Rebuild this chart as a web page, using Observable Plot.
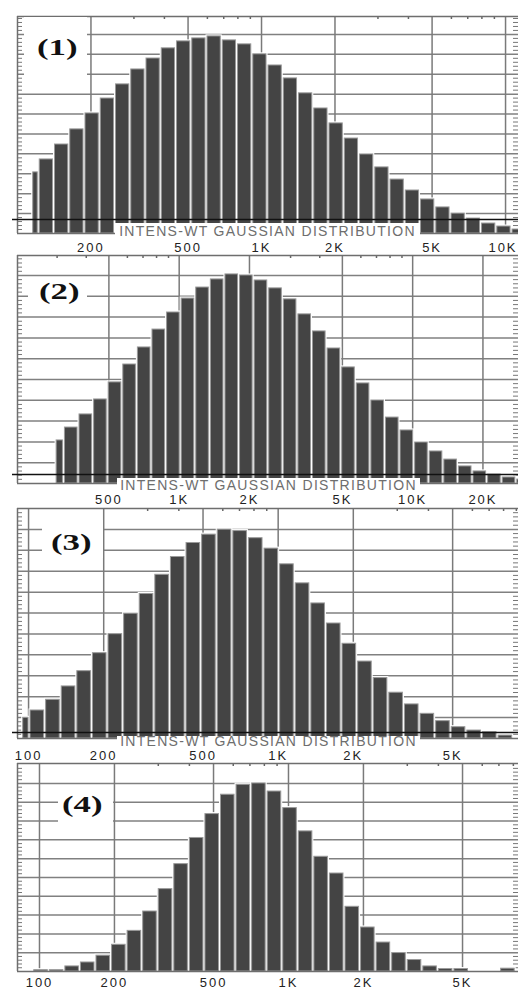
<!DOCTYPE html>
<html><head><meta charset="utf-8">
<script src="https://cdn.jsdelivr.net/npm/d3@7"></script>
<script src="https://cdn.jsdelivr.net/npm/@observablehq/plot@0.6"></script>
<style>
body{margin:0;background:#fff;}
#root{position:relative;width:518px;height:989px;overflow:hidden;background:#fff;}
.panel{position:absolute;left:0;width:518px;}
.panel svg text{letter-spacing:2px;}
.cap{position:absolute;background:#fff;color:#6e6e6e;font:14px "Liberation Sans",Arial,sans-serif;letter-spacing:1.3px;white-space:nowrap;text-align:center;}
.tagbox{position:absolute;background:#fff;}
.tag{position:absolute;font:bold 24px/24px "Liberation Serif","Times New Roman",serif;color:#111;transform:scaleX(1.45);transform-origin:left top;white-space:nowrap;}
</style></head><body><div id="root"></div>
<script>
// ---- data ----
const binsPerDecade = 16;
const captionText = "INTENS-WT GAUSSIAN DISTRIBUTION";
const panelTags = ["(1)", "(2)", "(3)", "(4)"];

const p1Values = [3.07, 3.72, 4.47, 5.23, 6.03, 6.78, 7.49, 8.24, 8.79, 9.30, 9.65, 9.80, 9.90, 9.70, 9.50, 9.00, 8.44, 7.79, 7.04, 6.28, 5.53, 4.77, 3.97, 3.32, 2.71, 2.16, 1.71, 1.31, 1.00, 0.75, 0.50, 0.35, 0.20];
const p1Edges = [114.9, 122.2];
const p1Domain = [100, 11300];
const p1Ticks = [200, 500, 1000, 2000, 5000, 10000];
const p1Minor = [300, 400, 600, 700, 800, 900, 3000, 4000, 6000, 7000, 8000, 9000];

const p2Values = [2.07, 2.69, 3.32, 4.04, 4.86, 5.72, 6.54, 7.40, 8.22, 8.89, 9.42, 9.81, 10.05, 10.0, 9.76, 9.38, 8.85, 8.13, 7.31, 6.49, 5.58, 4.81, 3.99, 3.17, 2.55, 1.97, 1.54, 1.15, 0.82, 0.58, 0.43, 0.29, 0.19];
const p2Edges = [295.7, 320.9];
const p2Domain = [203, 28400];
const p2Ticks = [500, 1000, 2000, 5000, 10000, 20000];
const p2Minor = [300, 400, 600, 700, 800, 900, 3000, 4000, 6000, 7000, 8000, 9000];

const p3Values = [0.99, 1.34, 1.85, 2.49, 3.22, 4.08, 4.99, 5.97, 6.91, 7.83, 8.68, 9.35, 9.75, 9.99, 9.92, 9.58, 9.08, 8.33, 7.42, 6.46, 5.50, 4.53, 3.68, 2.89, 2.19, 1.63, 1.18, 0.83, 0.54, 0.38, 0.30, 0.14];
const p3Edges = [94.3, 100.9];
const p3Domain = [90.3, 9180];
const p3Ticks = [100, 200, 500, 1000, 2000, 5000];
const p3Minor = [300, 400, 600, 700, 800, 900, 3000, 4000, 6000, 7000, 8000, 9000];

const p4Values = [0.07, 0.07, 0.27, 0.48, 0.84, 1.42, 2.16, 3.19, 4.38, 5.71, 7.10, 8.37, 9.40, 9.93, 10.0, 9.57, 8.69, 7.45, 6.10, 5.21, 3.44, 2.34, 1.54, 0.98, 0.61, 0.27, 0.13, 0.13, 0, 0, 0.15];
const p4Edges = [94.4, 109.0];
const p4Domain = [81.6, 8390];
const p4Ticks = [100, 200, 500, 1000, 2000, 5000];
const p4Minor = [300, 400, 600, 700, 800, 900, 3000, 4000, 6000, 7000, 8000, 9000];

const gridLevels = [1, 2, 3, 4, 5, 6, 7, 8, 9, 10];
const yMaxes = [10.9, 10.96, 11.0, 11.06];
const blackLines = [0.70, 0.43, 0.29, null];
const edgeTicks = [10000]; // label at the right edge, kept inside the page

// ---- drawing ----
const root = document.getElementById("root");
const fmt = d => d >= 1000 ? (d / 1000) + "K" : String(d);

function binEdges(first, second, n) {
  const r = Math.pow(10, 1 / binsPerDecade);
  const e = [first];
  for (let k = 0; k < n; k++) e.push(second * Math.pow(r, k));
  return e;
}

function makePanel({values, edges, domain, ticks, minor, ymax, blackY, top, mt, plotH, mb, pad, rightTicks = []}) {
  const e = binEdges(edges[0], edges[1], values.length);
  const bars = values.map((v, i) => ({x1: e[i], x2: e[i + 1], v}));
  const W = 518, ML = 17;
  const pxPerDec = (W - ML) / Math.log10(domain[1] / domain[0]);
  const unit = plotH / ymax;
  const kx = Math.pow(10, 5 / pxPerDec);
  const yMinor = d3.range(1, Math.floor(ymax * 5) + 1).map(i => i / 5).filter(d => Math.abs(d - Math.round(d)) > 0.01);
  const inner = ticks.filter(t => !rightTicks.includes(t));
  const txt = {fontSize: 13, fill: "#222", fontFamily: "Liberation Sans, Arial, sans-serif", frameAnchor: "bottom", lineAnchor: "top", dy: pad};
  const marks = [
    Plot.ruleY(gridLevels, {stroke: "#808080", strokeWidth: 1.5}),
    Plot.ruleX(ticks, {stroke: "#7a7a7a", strokeWidth: 1.5}),
    Plot.ruleY(yMinor, {x1: () => domain[0], x2: () => domain[0] * kx, stroke: "#777", strokeWidth: 1}),
    Plot.ruleY(yMinor, {x1: () => domain[1] / kx, x2: () => domain[1], stroke: "#777", strokeWidth: 1}),
    Plot.ruleX(minor, {y1: () => ymax, y2: () => ymax - 3 / unit, stroke: "#666", strokeWidth: 1.5}),
    Plot.rect(bars, {x1: "x1", x2: "x2", y1: () => 0, y2: "v", fill: "white", stroke: "white", strokeWidth: 3, insetLeft: 1, insetRight: 1}),
    Plot.rect(bars, {x1: "x1", x2: "x2", y1: () => 0, y2: "v", fill: "#444", stroke: "#9a9a9a", strokeWidth: 1, insetLeft: 1, insetRight: 1}),
    Plot.ruleY([0, ymax], {stroke: "#6e6e6e", strokeWidth: 1.5}),
    Plot.ruleX([domain[0]], {stroke: "#6e6e6e", strokeWidth: 1.5}),
    Plot.text(inner, {x: d => d, text: fmt, ...txt})
  ];
  if (rightTicks.length) marks.push(Plot.text(rightTicks, {x: d => d, text: fmt, textAnchor: "end", dx: 12, ...txt}));
  if (blackY != null) marks.push(Plot.ruleY([blackY], {stroke: "#111", strokeWidth: 1.6, insetLeft: -5}));
  const svg = Plot.plot({
    width: W, height: mt + plotH + mb,
    marginLeft: ML, marginRight: 0, marginTop: mt, marginBottom: mb,
    x: {type: "log", domain, axis: null},
    y: {domain: [0, ymax], axis: null},
    marks
  });
  const div = document.createElement("div");
  div.className = "panel";
  div.style.top = top + "px";
  div.appendChild(svg);
  root.appendChild(div);
}

makePanel({values: p1Values, edges: p1Edges, domain: p1Domain, ticks: p1Ticks, minor: p1Minor, ymax: yMaxes[0], blackY: blackLines[0], top: 0, mt: 16, plotH: 217, mb: 22, pad: 9.5, rightTicks: edgeTicks});
makePanel({values: p2Values, edges: p2Edges, domain: p2Domain, ticks: p2Ticks, minor: p2Minor, ymax: yMaxes[1], blackY: blackLines[1], top: 254, mt: 1, plotH: 228, mb: 24, pad: 11});
makePanel({values: p3Values, edges: p3Edges, domain: p3Domain, ticks: p3Ticks, minor: p3Minor, ymax: yMaxes[2], blackY: blackLines[2], top: 507, mt: 1, plotH: 230, mb: 24, pad: 12});
makePanel({values: p4Values, edges: p4Edges, domain: p4Domain, ticks: p4Ticks, minor: p4Minor, ymax: yMaxes[3], blackY: blackLines[3], top: 762, mt: 1, plotH: 208, mb: 18, pad: 6});

// captions (white boxes over the bar bottoms)
[[115, 223, 305, 17], [117, 478, 303, 14], [117, 736, 303, 10]].forEach(([l, t, w, h]) => {
  const c = document.createElement("div");
  c.className = "cap";
  Object.assign(c.style, {left: l + "px", top: t + "px", width: w + "px", height: h + "px", lineHeight: h + "px"});
  c.textContent = captionText;
  root.appendChild(c);
});

// panel tags
[[24, 17, 63, 72, 37, 34.5], [28, 281, 59, 23, 39, 278.5], [42, 520, 61, 38, 51, 529.5], [58, 792, 55, 33, 62, 791.5]].forEach(([bl, bt, bw, bh, tl, tt], i) => {
  const b = document.createElement("div");
  b.className = "tagbox";
  Object.assign(b.style, {left: bl + "px", top: bt + "px", width: bw + "px", height: bh + "px"});
  root.appendChild(b);
  const t = document.createElement("div");
  t.className = "tag";
  Object.assign(t.style, {left: tl + "px", top: tt + "px"});
  t.textContent = panelTags[i];
  root.appendChild(t);
});
</script>
</body></html>
